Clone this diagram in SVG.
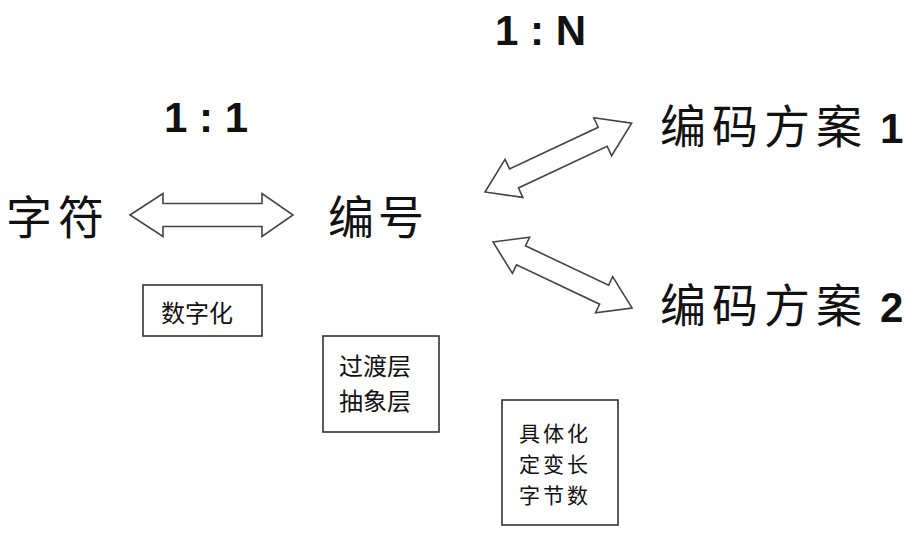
<svg xmlns="http://www.w3.org/2000/svg" width="914" height="550" viewBox="0 0 914 550">
<style>
.big{font-family:"Noto Sans CJK SC","Noto Sans CJK JP",sans-serif;font-size:46px;fill:#111;}
.num{font-family:"Liberation Sans",Arial,sans-serif;font-weight:bold;font-size:42px;fill:#111;}
.small{font-family:"Noto Sans CJK SC","Noto Sans CJK JP",sans-serif;font-size:24px;fill:#111;}
.tight{font-family:"Noto Sans CJK SC","Noto Sans CJK JP",sans-serif;font-size:21px;letter-spacing:3px;fill:#111;}
.box{fill:#fff;stroke:#333;stroke-width:1.6;}
.arrow{fill:#fff;stroke:#444;stroke-width:1.6;stroke-linejoin:miter;}
</style>
<rect width="914" height="550" fill="#fff"/>
<g id="connectors">
<polygon class="arrow" points="130,215 163,193.5 163,203.5 262,203.5 262,193.5 293,215 262,236.5 262,226.5 163,226.5 163,236.5"/>
<polygon class="arrow" transform="translate(485,192) rotate(-25.14)" points="0,0 32,-21 32,-10.5 130,-10.5 130,-21 162,0 130,21 130,10.5 32,10.5 32,21"/>
<polygon class="arrow" transform="translate(493,242) rotate(25.4)" points="0,0 31,-20 31,-10.5 123,-10.5 123,-20 154,0 123,20 123,10.5 31,10.5 31,20"/>
</g>
<g id="ratio-1-1"><text class="num" x="164" y="132">1 : 1</text></g>
<g id="ratio-1-n"><text class="num" x="495" y="45">1 : N</text></g>
<g id="node-char"><text class="big" x="6" y="234" letter-spacing="6">字符</text></g>
<g id="node-code"><text class="big" x="328" y="234" letter-spacing="4">编号</text></g>
<g id="node-scheme1"><text class="big" x="660" y="143" letter-spacing="6">编码方案</text><text class="num" x="880" y="143">1</text></g>
<g id="node-scheme2"><text class="big" x="660" y="322" letter-spacing="6">编码方案</text><text class="num" x="880" y="322">2</text></g>
<g id="box-digitize">
<rect class="box" x="143" y="285" width="119" height="51"/>
<text class="small" x="161" y="322">数字化</text>
</g>
<g id="box-abstract">
<rect class="box" x="323" y="336" width="116" height="96"/>
<text class="small" x="339" y="375">过渡层</text>
<text class="small" x="339" y="410">抽象层</text>
</g>
<g id="box-concrete">
<rect class="box" x="502" y="400" width="116" height="125"/>
<text class="tight" x="519" y="441">具体化</text>
<text class="tight" x="519" y="472">定变长</text>
<text class="tight" x="519" y="503">字节数</text>
</g>
</svg>
